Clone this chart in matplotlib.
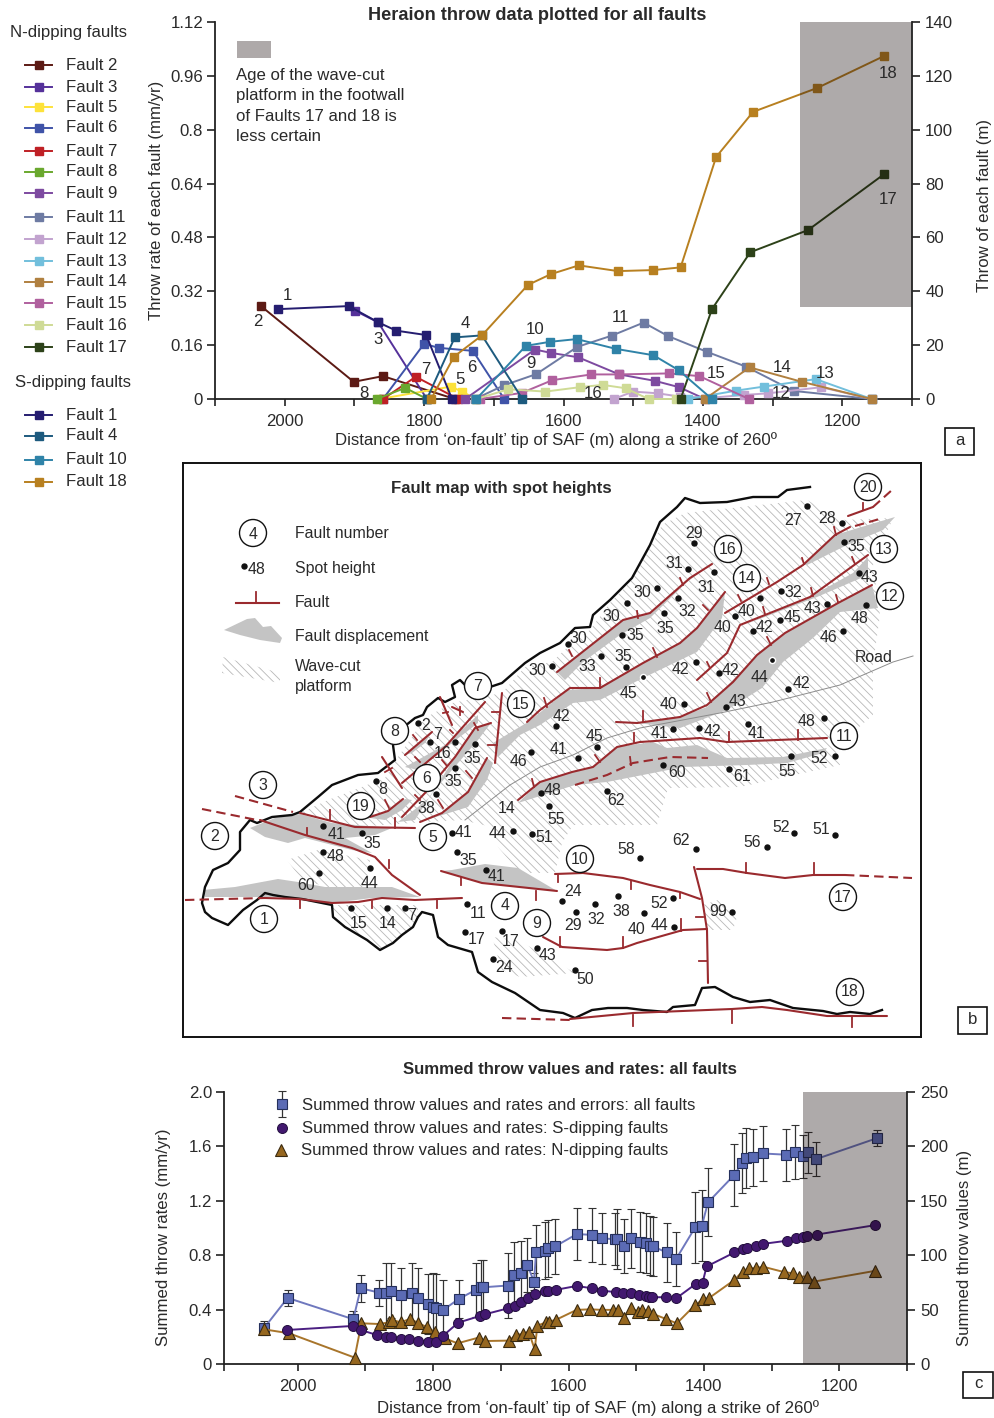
import matplotlib
matplotlib.use("Agg")
import matplotlib.pyplot as plt
from matplotlib.patches import Polygon, Rectangle, Circle

plt.rcParams['font.family'] = ['Liberation Sans', 'DejaVu Sans']
plt.rcParams['hatch.linewidth'] = 0.6

W, H = 995, 1418
TXT = "#2a2a2a"
AX = "#222222"
FS = 12.1
MAP_FS = 11.4

# ---- panel a: throw rate (mm/yr) for each fault, x is distance along strike (m)
fault_2_x = [2034, 1901, 1859, 1756]
fault_2_y = [0.276, 0.051, 0.068, 0]
fault_3_x = [1899, 1866, 1796]
fault_3_y = [0.262, 0.228, 0]
fault_5_x = [1864, 1761, 1746, 1725]
fault_5_y = [0, 0.037, 0.022, 0]
fault_6_x = [1859, 1800, 1779, 1730, 1685]
fault_6_y = [0, 0.164, 0.152, 0.143, 0]
fault_7_x = [1859, 1812, 1751]
fault_7_y = [0, 0.066, 0]
fault_8_x = [1868, 1827, 1796]
fault_8_y = [0, 0.033, 0]
fault_9_x = [1741, 1641, 1618, 1579, 1520, 1469, 1434, 1397]
fault_9_y = [0, 0.147, 0.137, 0.124, 0.073, 0.054, 0.035, 0]
fault_11_x = [1727, 1685, 1639, 1580, 1531, 1485, 1450, 1394, 1338, 1270, 1158]
fault_11_y = [0, 0.041, 0.074, 0.155, 0.188, 0.227, 0.187, 0.140, 0.096, 0.024, 0]
fault_12_x = [1528, 1500, 1465, 1433, 1387, 1341, 1306, 1230, 1158]
fault_12_y = [0, 0.022, 0.017, 0.007, 0.004, 0.012, 0.017, 0.035, 0]
fault_13_x = [1421, 1352, 1312, 1238, 1158]
fault_13_y = [0, 0.025, 0.037, 0.059, 0]
fault_14_x = [1397, 1333, 1258, 1158]
fault_14_y = [0, 0.094, 0.051, 0]
fault_15_x = [1720, 1660, 1616, 1560, 1520, 1449, 1405, 1334]
fault_15_y = [0, 0.018, 0.056, 0.073, 0.073, 0.076, 0.068, 0]
fault_16_x = [1725, 1679, 1626, 1577, 1544, 1511, 1478, 1438]
fault_16_y = [0, 0.029, 0.022, 0.035, 0.042, 0.032, 0, 0]
fault_17_x = [1432, 1387, 1332, 1249, 1140]
fault_17_y = [0, 0.267, 0.436, 0.502, 0.668]
fault_1_x = [2009, 1908, 1866, 1840, 1797, 1760]
fault_1_y = [0.267, 0.276, 0.228, 0.203, 0.190, 0]
fault_4_x = [1796, 1756, 1717, 1659]
fault_4_y = [0, 0.183, 0.189, 0]
fault_10_x = [1725, 1654, 1619, 1581, 1525, 1471, 1435, 1387]
fault_10_y = [0, 0.158, 0.170, 0.178, 0.149, 0.130, 0.086, 0]
fault_18_x = [1790, 1757, 1717, 1651, 1618, 1578, 1522, 1471, 1432, 1381, 1328, 1236, 1140]
fault_18_y = [0, 0.126, 0.189, 0.339, 0.371, 0.397, 0.380, 0.383, 0.391, 0.719, 0.853, 0.924, 1.019]

n_dipping = [("Fault 2", fault_2_x, fault_2_y, "#5c1a14"), ("Fault 3", fault_3_x, fault_3_y, "#55319a"),
             ("Fault 5", fault_5_x, fault_5_y, "#fde23a"), ("Fault 6", fault_6_x, fault_6_y, "#3f53a8"),
             ("Fault 7", fault_7_x, fault_7_y, "#bf2025"), ("Fault 8", fault_8_x, fault_8_y, "#6aa82e"),
             ("Fault 9", fault_9_x, fault_9_y, "#7d4aa0"), ("Fault 11", fault_11_x, fault_11_y, "#6e7ba3"),
             ("Fault 12", fault_12_x, fault_12_y, "#c2a3cf"), ("Fault 13", fault_13_x, fault_13_y, "#72bfdc"),
             ("Fault 14", fault_14_x, fault_14_y, "#b08040"), ("Fault 15", fault_15_x, fault_15_y, "#b0609e"),
             ("Fault 16", fault_16_x, fault_16_y, "#cfdb96"), ("Fault 17", fault_17_x, fault_17_y, "#2d4219")]
s_dipping = [("Fault 1", fault_1_x, fault_1_y, "#251d70"), ("Fault 4", fault_4_x, fault_4_y, "#1d5a7e"),
             ("Fault 10", fault_10_x, fault_10_y, "#2f83a8"), ("Fault 18", fault_18_x, fault_18_y, "#b88020")]

# ---- panel c: summed rates (mm/yr)
all_x = [2050, 2015, 1918, 1907, 1880, 1869, 1863, 1848, 1832, 1822, 1808, 1800, 1796, 1785, 1762, 1737, 1729,
         1726, 1690, 1680, 1670, 1661, 1651, 1648, 1635, 1630, 1620, 1588, 1566, 1550, 1531, 1528, 1518, 1507,
         1494, 1486, 1480, 1475, 1455, 1441, 1413, 1403, 1394, 1355, 1344, 1338, 1327, 1313, 1279, 1265, 1254,
         1246, 1234, 1144]
all_y = [0.263, 0.486, 0.329, 0.557, 0.525, 0.52, 0.54, 0.508, 0.52, 0.483, 0.442, 0.422, 0.41, 0.398, 0.479,
         0.545, 0.564, 0.564, 0.577, 0.655, 0.667, 0.729, 0.606, 0.82, 0.834, 0.85, 0.864, 0.955, 0.95, 0.923,
         0.918, 0.92, 0.869, 0.923, 0.90, 0.888, 0.871, 0.864, 0.82, 0.773, 1.004, 1.018, 1.188, 1.391, 1.477,
         1.514, 1.519, 1.548, 1.539, 1.558, 1.526, 1.558, 1.507, 1.661]
all_err = [0.05, 0.06, 0.06, 0.10, 0.095, 0.22, 0.2, 0.2, 0.22, 0.22, 0.22, 0.25, 0.25, 0.22, 0.14, 0.2, 0.2,
           0.2, 0.24, 0.24, 0.24, 0.2, 0.06, 0.2, 0.21, 0.21, 0.2, 0.19, 0.2, 0.19, 0.19, 0.22, 0.2, 0.22, 0.22,
           0.22, 0.22, 0.22, 0.22, 0.2, 0.26, 0.26, 0.25, 0.23, 0.22, 0.22, 0.21, 0.2, 0.19, 0.2, 0.16, 0.15,
           0.125, 0.06]
s_x = [2016, 1918, 1907, 1883, 1869, 1862, 1848, 1835, 1823, 1808, 1796, 1785, 1763, 1731, 1723, 1689, 1679,
       1670, 1660, 1650, 1635, 1630, 1619, 1588, 1566, 1551, 1530, 1520, 1507, 1496, 1486, 1481, 1476, 1456,
       1441, 1412, 1402, 1396, 1355, 1343, 1337, 1323, 1313, 1278, 1264, 1253, 1248, 1233, 1147]
s_y = [0.25, 0.28, 0.25, 0.213, 0.201, 0.201, 0.184, 0.182, 0.172, 0.164, 0.164, 0.209, 0.304, 0.353, 0.366,
       0.41, 0.429, 0.454, 0.483, 0.515, 0.54, 0.54, 0.545, 0.574, 0.557, 0.54, 0.528, 0.525, 0.525, 0.508, 0.5,
       0.496, 0.491, 0.491, 0.483, 0.589, 0.599, 0.717, 0.82, 0.844, 0.856, 0.871, 0.883, 0.906, 0.93, 0.937,
       0.942, 0.952, 1.021]
n_x = [2050, 2013, 1916, 1906, 1879, 1865, 1861, 1848, 1834, 1823, 1809, 1798, 1783, 1764, 1733, 1723, 1688,
       1678, 1668, 1659, 1650, 1646, 1633, 1629, 1619, 1588, 1568, 1551, 1535, 1527, 1518, 1507, 1497, 1492,
       1482, 1475, 1456, 1440, 1413, 1401, 1393, 1355, 1343, 1334, 1323, 1313, 1281, 1268, 1259, 1248, 1237,
       1147]
n_y = [0.255, 0.226, 0.047, 0.299, 0.294, 0.307, 0.324, 0.307, 0.331, 0.304, 0.27, 0.238, 0.189, 0.152, 0.194,
       0.169, 0.172, 0.213, 0.221, 0.238, 0.108, 0.282, 0.307, 0.312, 0.324, 0.398, 0.402, 0.398, 0.398, 0.398,
       0.341, 0.41, 0.385, 0.398, 0.39, 0.368, 0.331, 0.299, 0.434, 0.476, 0.483, 0.618, 0.68, 0.704, 0.704,
       0.716, 0.675, 0.667, 0.643, 0.643, 0.606, 0.685]

# ---- panel b: map features, coordinates are in map units (image pixels)
coast = [(810, 487), (787, 490), (778, 497), (753, 497), (727, 502), (700, 503), (685, 498), (677, 507), (660, 522),
         (650, 545), (632, 578), (610, 600), (593, 615), (590, 627), (575, 628), (560, 643), (540, 653), (525, 663),
         (502, 683), (490, 687), (468, 688), (460, 680), (452, 685), (455, 697), (445, 702), (438, 698), (427, 707),
         (423, 715), (415, 718), (400, 730), (393, 745), (395, 760), (378, 773), (358, 775), (332, 785), (318, 797),
         (300, 812), (292, 815), (272, 817), (257, 823), (250, 820), (240, 832), (240, 850), (228, 863), (213, 870),
         (205, 887), (202, 903), (205, 912), (212, 918), (228, 925), (243, 910), (257, 900), (265, 893), (273, 895),
         (285, 897), (302, 899), (332, 905), (333, 917), (345, 927), (367, 940), (380, 950), (393, 943), (402, 935),
         (413, 927), (418, 917), (422, 912), (433, 915), (438, 937), (448, 945), (472, 952), (478, 972), (492, 982),
         (515, 993), (540, 1010), (563, 1013), (575, 1018), (592, 1010), (608, 1008), (627, 1008), (643, 1010),
         (667, 1012), (673, 1007), (695, 1005), (702, 988), (715, 987), (733, 997), (750, 1002), (770, 1000),
         (793, 1008), (823, 1011), (837, 1014), (850, 1012), (870, 1014), (882, 1010)]
road = [(913, 656), (893, 662), (840, 685), (773, 702), (720, 713), (640, 728), (607, 738), (573, 755), (540, 767),
        (510, 785), (465, 820)]

solid_faults = [
    [(265, 898), (300, 899), (332, 903), (358, 902), (382, 898), (415, 900), (462, 898)],
    [(260, 820), (305, 835), (352, 848), (375, 857), (392, 875), (420, 895)],
    [(300, 813), (355, 827), (415, 828)],
    [(441, 871), (482, 883), (557, 891)],
    [(420, 822), (442, 813), (468, 792), (487, 758)],
    [(402, 817), (425, 793), (455, 757), (475, 728), (491, 723)],
    [(402, 783), (445, 747), (485, 702)],
    [(405, 755), (432, 732)],
    [(370, 817), (388, 811), (403, 799)],
    [(382, 757), (402, 788)],
    [(440, 697), (452, 725)],
    [(452, 707), (463, 712)],
    [(502, 693), (495, 763)],
    [(527, 722), (540, 710), (570, 688), (600, 688), (643, 663), (680, 643), (697, 628), (725, 592)],
    [(557, 672), (623, 620), (650, 613), (690, 578), (712, 564)],
    [(697, 680), (727, 653), (740, 625), (810, 597), (868, 555)],
    [(725, 613), (777, 582), (803, 565), (835, 535), (850, 527)],
    [(848, 516), (873, 507)],
    [(616, 722), (637, 723), (680, 717), (707, 705), (733, 682), (757, 655), (785, 633), (838, 603), (872, 585)],
    [(518, 800), (540, 782), (572, 772), (593, 767), (617, 747), (640, 742), (700, 738), (727, 742), (827, 738)],
    [(555, 874), (583, 873), (623, 878), (650, 885), (680, 892), (700, 899)],
    [(694, 867), (702, 898), (707, 930), (708, 983)],
    [(697, 869), (723, 869), (747, 873), (785, 878), (813, 875), (845, 875)],
    [(543, 937), (562, 947), (607, 950), (623, 948), (637, 943), (683, 930), (707, 929)],
    [(570, 1019), (633, 1013), (732, 1009), (762, 1007), (787, 1010), (827, 1016), (887, 1016)],
]
dashed_faults = [
    [(185, 900), (265, 898)],
    [(202, 809), (257, 820)],
    [(235, 796), (293, 812)],
    [(855, 526), (883, 518)],
    [(873, 507), (892, 490)],
    [(575, 785), (607, 775), (633, 763), (670, 757), (708, 758)],
    [(845, 875), (912, 878)],
    [(502, 1018), (570, 1020)],
]
fault_ticks = [
    (300, 899, 300, 908), (372, 901, 372, 908), (437, 899, 437, 908), (307, 828, 307, 835), (389, 860, 389, 868),
    (330, 810, 330, 819), (395, 818, 395, 828), (461, 877, 461, 885), (536, 891, 536, 900), (438, 800, 443, 808),
    (466, 771, 472, 778), (415, 795, 420, 800), (442, 760, 447, 766), (474, 723, 478, 730), (415, 757, 420, 762),
    (450, 730, 453, 733), (413, 735, 417, 740), (385, 800, 389, 808), (392, 768, 385, 772), (443, 713, 448, 712),
    (460, 707, 460, 715), (492, 712, 500, 712), (488, 745, 497, 745), (544, 698, 547, 707), (600, 678, 600, 688),
    (653, 648, 657, 657), (703, 605, 708, 610), (569, 650, 572, 656), (637, 611, 638, 618), (680, 578, 683, 585),
    (707, 662, 710, 668), (763, 607, 765, 614), (811, 588, 813, 596), (852, 557, 855, 564), (738, 595, 741, 601),
    (767, 578, 769, 584), (802, 558, 804, 564), (834, 527, 836, 535), (863, 503, 863, 510), (643, 711, 643, 722),
    (707, 693, 711, 702), (767, 637, 771, 645), (836, 595, 838, 602), (634, 733, 634, 742), (729, 732, 729, 742),
    (798, 730, 798, 740), (595, 755, 600, 762), (532, 779, 534, 787), (630, 757, 631, 765), (558, 875, 558, 882),
    (631, 881, 631, 889), (680, 893, 680, 898), (696, 917, 703, 917), (699, 961, 707, 961), (746, 863, 746, 873),
    (814, 863, 814, 875), (560, 937, 560, 947), (623, 937, 623, 948), (681, 919, 681, 931), (633, 1015, 633, 1026),
    (732, 1009, 732, 1023), (852, 1017, 852, 1027),
]
displacement = [
    [(203, 890), (235, 887), (278, 879), (298, 882), (325, 887), (392, 887), (420, 897), (372, 898), (332, 903),
     (285, 897), (205, 897)],
    [(250, 828), (275, 818), (300, 814), (332, 823), (392, 828), (375, 835), (345, 838), (372, 853), (352, 850),
     (305, 838), (288, 843), (265, 837)],
    [(441, 871), (452, 870), (485, 864), (518, 868), (557, 891), (482, 883)],
    [(420, 822), (442, 813), (468, 792), (487, 758), (493, 763), (487, 780), (468, 807)],
    [(398, 822), (418, 807), (430, 797), (455, 757), (475, 728), (491, 723), (478, 740), (452, 770), (432, 793),
     (415, 820)],
    [(405, 767), (445, 745), (478, 715), (478, 723), (452, 743), (418, 770)],
    [(405, 755), (432, 732), (425, 743), (412, 753)],
    [(370, 818), (388, 811), (405, 799), (412, 800), (402, 810), (385, 820)],
    [(493, 743), (528, 722), (568, 690), (600, 688), (643, 663), (680, 643), (697, 628), (725, 592), (722, 618),
     (697, 652), (643, 678), (600, 700), (573, 703), (540, 725), (520, 735), (498, 757)],
    [(557, 672), (623, 620), (650, 613), (690, 578), (712, 564), (687, 582), (650, 618), (620, 635), (583, 662),
     (565, 680)],
    [(803, 565), (835, 535), (895, 517), (883, 530), (847, 545), (807, 565)],
    [(810, 597), (853, 573), (868, 557), (868, 575), (817, 597), (757, 620), (743, 625)],
    [(707, 707), (757, 655), (785, 633), (838, 603), (872, 585), (878, 608), (840, 612), (813, 638), (783, 662),
     (762, 688), (727, 710), (680, 728), (637, 723), (680, 717)],
    [(518, 803), (540, 782), (572, 772), (593, 767), (617, 747), (653, 742), (667, 748), (697, 745), (727, 758),
     (783, 757), (827, 748), (823, 753), (787, 763), (747, 765), (683, 767), (653, 773), (607, 782), (575, 785)],
]
platforms = [
    [(685, 513), (807, 500), (842, 520), (893, 518), (873, 565), (880, 615), (873, 665), (873, 715), (835, 748),
     (840, 765), (740, 787), (668, 788), (657, 825), (573, 825), (562, 843), (555, 873), (520, 873), (498, 847),
     (492, 827), (462, 820), (425, 822), (355, 827), (300, 813), (328, 800), (385, 778), (398, 757), (425, 718),
     (452, 703), (502, 693), (525, 667), (552, 662), (575, 640), (590, 630), (610, 603), (632, 580), (650, 548),
     (662, 525)],
    [(287, 860), (318, 850), (370, 860), (367, 887), (328, 887), (302, 880)],
    [(333, 905), (418, 905), (418, 917), (413, 927), (393, 943), (380, 950), (367, 940), (345, 927), (333, 917)],
    [(492, 937), (518, 940), (575, 973), (520, 977), (502, 970)],
    [(718, 900), (737, 917), (733, 930), (708, 930), (703, 905)],
]

# dot x, dot y, height, label x, label y
spot_heights = [
    (418, 723, "2", 426, 725), (430, 742, "7", 438, 734), (455, 742, "16", 443, 753), (475, 744, "35", 472, 758),
    (455, 768, "35", 453, 781), (436, 794, "38", 426, 808), (376, 781, "8", 383, 789), (323, 826, "41", 337, 834),
    (362, 833, "35", 372, 843), (323, 852, "48", 336, 856), (319, 873, "60", 306, 885), (370, 868, "44", 370, 883),
    (351, 908, "15", 359, 923), (387, 908, "14", 388, 923), (405, 908, "7", 412, 916), (452, 833, "41", 464, 832),
    (457, 852, "35", 468, 860), (486, 870, "41", 497, 876), (513, 831, "44", 498, 833), (532, 834, "51", 544, 837),
    (467, 904, "11", 478, 913), (465, 932, "17", 477, 939), (502, 931, "17", 511, 941), (493, 959, "24", 504, 967),
    (537, 948, "43", 548, 955), (575, 970, "50", 585, 980), (562, 901, "24", 573, 891), (576, 912, "29", 573, 926),
    (531, 752, "46", 518, 761), (578, 758, "41", 559, 749), (556, 726, "42", 561, 716), (541, 793, "48", 553, 790),
    (549, 806, "55", 556, 819), (552, 666, "30", 537, 670), (568, 644, "30", 578, 638), (601, 656, "33", 587, 666),
    (626, 667, "35", 623, 656), (622, 635, "35", 635, 635), (627, 603, "30", 611, 616), (657, 588, "30", 642, 592),
    (664, 613, "35", 665, 628), (678, 598, "32", 687, 611), (688, 569, "31", 674, 563), (694, 543, "29", 694, 533),
    (714, 572, "31", 706, 587), (597, 747, "45", 594, 736), (696, 662, "42", 680, 669), (719, 673, "42", 730, 670),
    (684, 704, "40", 669, 704), (726, 707, "43", 738, 701), (753, 631, "42", 764, 627), (735, 616, "40", 747, 611),
    (760, 598, "40", 723, 627), (781, 591, "32", 793, 592), (780, 620, "45", 792, 617), (827, 604, "43", 813, 608),
    (859, 573, "43", 870, 577), (866, 605, "48", 860, 618), (843, 631, "46", 828, 637), (788, 689, "42", 801, 683),
    (824, 718, "48", 807, 721), (748, 724, "41", 757, 733), (699, 728, "42", 712, 731), (673, 729, "41", 660, 733),
    (835, 756, "52", 819, 758), (791, 756, "55", 787, 771), (729, 769, "61", 742, 776), (663, 765, "60", 677, 772),
    (607, 791, "62", 616, 800), (807, 506, "27", 793, 520), (842, 523, "28", 827, 518), (844, 542, "35", 856, 546),
    (640, 858, "58", 626, 849), (696, 849, "62", 681, 840), (767, 847, "56", 752, 842), (794, 833, "52", 781, 827),
    (835, 835, "51", 821, 829), (595, 904, "32", 596, 919), (618, 896, "38", 621, 911), (644, 913, "40", 637, 930),
    (673, 898, "52", 659, 903), (674, 927, "44", 660, 926), (732, 912, "99", 718, 911),
]
ringed_spots = [(643, 677, "45", 628, 693), (772, 660, "44", 760, 677)]
fault_circles = [("1", 264, 919), ("2", 215, 836), ("3", 263, 785), ("4", 505, 906), ("5", 433, 837), ("6", 427, 778),
                 ("7", 478, 686), ("8", 395, 731), ("9", 537, 923), ("10", 580, 859), ("11", 844, 736), ("12", 890, 596),
                 ("13", 884, 549), ("14", 747, 578), ("15", 521, 704), ("16", 728, 549), ("17", 843, 897),
                 ("18", 850, 992), ("19", 361, 806), ("20", 868, 487)]
fault_numbers_a = [("1", 287, 295), ("2", 258, 322), ("3", 378, 340), ("4", 465, 323), ("5", 460, 380), ("6", 472, 368),
                   ("7", 426, 369), ("8", 364, 394), ("9", 531, 364), ("10", 535, 329), ("11", 621, 318),
                   ("12", 781, 394), ("13", 825, 373), ("14", 782, 368), ("15", 716, 373), ("16", 593, 394),
                   ("17", 888, 199), ("18", 888, 73)]

legend_n_rows = [65, 87, 107, 128, 151, 172, 193, 217, 239, 261, 282, 303, 325, 347]
legend_s_rows = [415, 436, 460, 482]

fig = plt.figure(figsize=(W / 100, H / 100), dpi=100)


def add_ax(left, top, right, bottom):
    return fig.add_axes([left / W, 1 - bottom / H, (right - left) / W, (bottom - top) / H])


def ftext(x, y, s, **kw):
    kw.setdefault("ha", "center")
    kw.setdefault("va", "center")
    kw.setdefault("fontsize", FS)
    kw.setdefault("color", TXT)
    return fig.text(x / W, 1 - y / H, s, **kw)


def style_axes(ax, ax2):
    ax.spines["top"].set_visible(False)
    ax.spines["right"].set_visible(False)
    ax2.spines["top"].set_visible(False)
    ax2.spines["left"].set_visible(False)
    ax2.spines["bottom"].set_visible(False)
    for sp in [ax.spines["left"], ax.spines["bottom"], ax2.spines["right"]]:
        sp.set_linewidth(1.3)
        sp.set_color(AX)
    ax.tick_params(axis="x", length=5, width=1.2, color=AX, labelsize=FS, labelcolor=TXT, pad=6)
    ax.tick_params(axis="y", length=6, width=1.2, color=AX, labelsize=FS, labelcolor=TXT, pad=2.5)
    ax2.tick_params(axis="y", length=6, width=1.2, color=AX, labelsize=FS, labelcolor=TXT, pad=3.5)
    ax2.patch.set_visible(False)


# Panel a
ax_a = add_ax(215, 22, 912, 399)
ax_a.set_xlim(2100, 1100)
ax_a.set_ylim(0, 1.12)
for name, xs, ys, col in n_dipping + s_dipping:
    ax_a.plot(xs, ys, color=col, lw=1.4, marker="s", ms=6, clip_on=False, zorder=3)
ax_a.add_patch(Rectangle((1100, 0.274), 161, 0.846, facecolor=(24 / 255, 12 / 255, 12 / 255), alpha=0.35,
                         lw=0, zorder=5))
ax_a.set_xticks(range(1100, 2101, 100))
ax_a.set_xticklabels(["" if v % 200 or v == 2100 else str(v) for v in range(1100, 2101, 100)])
ax_a.set_yticks([0, 0.16, 0.32, 0.48, 0.64, 0.8, 0.96, 1.12])
ax_a.set_yticklabels(["0", "0.16", "0.32", "0.48", "0.64", "0.8", "0.96", "1.12"])
ax_a2 = ax_a.twinx()
ax_a2.set_ylim(0, 140)
ax_a2.set_yticks(range(0, 141, 20))
style_axes(ax_a, ax_a2)

ftext(537, 15, "Heraion throw data plotted for all faults", fontweight="bold", fontsize=13.1)
ftext(556, 440, "Distance from ‘on-fault’ tip of SAF (m) along a strike of 260º")
ftext(156, 200, "Throw rate of each fault (mm/yr)", rotation=90)
ftext(985, 205, "Throw of each fault (m)", rotation=90)
for i, line in enumerate(["Age of the wave-cut", "platform in the footwall", "of Faults 17 and 18 is", "less certain"]):
    ftext(236, 75.5 + i * 20.3, line, ha="left")
for s, x, y in fault_numbers_a:
    ftext(x, y, s)

# Full figure overlay for the side legend, the key box and the panel letters
overlay = fig.add_axes([0, 0, 1, 1], zorder=10)
overlay.set_xlim(0, W)
overlay.set_ylim(H, 0)
overlay.axis("off")
overlay.add_patch(Rectangle((237, 41), 34, 17, facecolor="#aea9a9", lw=0))
ftext(68, 32, "N-dipping faults", zorder=11)
ftext(73, 383, "S-dipping faults", zorder=11)
for (name, xs, ys, col), y in zip(n_dipping + s_dipping, legend_n_rows + legend_s_rows):
    overlay.plot([25, 52], [y, y], color=col, lw=1.4)
    overlay.plot([38.5], [y], color=col, marker="s", ms=6)
    ftext(66, y, name, ha="left")
for s, x0, y0, x1, y1 in [("a", 945, 428, 974, 455), ("b", 958, 1007, 987, 1034), ("c", 963, 1372, 993, 1398)]:
    overlay.add_patch(Rectangle((x0, y0), x1 - x0, y1 - y0, fill=False, edgecolor="#111111", lw=1.2))
    ftext((x0 + x1) / 2, (y0 + y1) / 2 - 1, s)

# Panel b, the map
ax_b = add_ax(183, 463, 921, 1037)
ax_b.set_xlim(183, 921)
ax_b.set_ylim(1037, 463)
ax_b.set_xticks([])
ax_b.set_yticks([])
for sp in ax_b.spines.values():
    sp.set_linewidth(1.4)
    sp.set_color("#111111")
RED = "#9a2a2e"
GREY = "#c4c4c4"
HATCH = "#b8b8b8"
for poly in platforms:
    ax_b.add_patch(Polygon(poly, closed=True, facecolor="none", edgecolor=HATCH, hatch="\\\\\\\\", lw=0, zorder=1))
for poly in displacement:
    ax_b.add_patch(Polygon(poly, closed=True, facecolor=GREY, edgecolor="none", zorder=2))
ax_b.plot(*zip(*road), color="#8c8c8c", lw=0.7, zorder=3)
ax_b.plot(*zip(*coast), color="#0d0d0d", lw=1.7, zorder=4, solid_joinstyle="round")
for f in solid_faults:
    ax_b.plot(*zip(*f), color=RED, lw=1.5, zorder=5, solid_capstyle="round")
for f in dashed_faults:
    ax_b.plot(*zip(*f), color=RED, lw=1.5, zorder=5, dashes=(4.5, 2.5))
for x0, y0, x1, y1 in fault_ticks:
    ax_b.plot([x0, x1], [y0, y1], color=RED, lw=1.3, zorder=5)
for x, y, s, lx, ly in spot_heights:
    ax_b.plot([x], [y], "o", color="#111111", ms=3.6, zorder=6)
    ax_b.text(lx, ly, s, ha="center", va="center", fontsize=MAP_FS, color=TXT, zorder=7)
for x, y, s, lx, ly in ringed_spots:
    ax_b.plot([x], [y], "o", color="#111111", ms=4.4, mec="white", mew=1.0, zorder=6)
    ax_b.text(lx, ly, s, ha="center", va="center", fontsize=MAP_FS, color=TXT, zorder=7)
ax_b.text(507, 808, "14", ha="center", va="center", fontsize=MAP_FS, color=TXT, zorder=7)
ax_b.text(874, 657, "Road", ha="center", va="center", fontsize=MAP_FS, color=TXT, zorder=7)
for s, x, y in fault_circles:
    ax_b.add_patch(Circle((x, y), 13.5, facecolor="white", edgecolor="#111111", lw=1.0, zorder=8))
    ax_b.text(x, y, s, ha="center", va="center", fontsize=MAP_FS, color=TXT, zorder=9)

# map key
ax_b.text(501, 488, "Fault map with spot heights", ha="center", va="center", fontsize=FS, fontweight="bold", color=TXT)
ax_b.add_patch(Circle((253, 533), 13.5, facecolor="white", edgecolor="#111111", lw=1.0))
ax_b.text(253, 534, "4", ha="center", va="center", fontsize=MAP_FS, color=TXT)
ax_b.plot([244.5], [566], "o", color="#111111", ms=3.6)
ax_b.text(257, 569, "48", ha="center", va="center", fontsize=MAP_FS, color=TXT)
ax_b.plot([236, 279], [602.5, 602.5], color=RED, lw=1.5)
ax_b.plot([256.5, 256.5], [592, 602.5], color=RED, lw=1.3)
ax_b.add_patch(Polygon([(224, 630), (247, 619), (255, 618), (263, 627), (271, 626), (282, 638), (280, 643), (260, 640),
                        (240, 635)], closed=True, facecolor=GREY, edgecolor="none"))
ax_b.add_patch(Polygon([(223, 657), (280, 673), (280, 683), (222, 673)], closed=True, facecolor="none",
                       edgecolor=HATCH, hatch="\\\\\\\\", lw=0))
for s, y in [("Fault number", 533), ("Spot height", 568), ("Fault", 602), ("Fault displacement", 636),
             ("Wave-cut", 666), ("platform", 686)]:
    ax_b.text(295, y, s, ha="left", va="center", fontsize=MAP_FS, color=TXT)

# Panel c
ax_c = add_ax(224, 1092, 907, 1364)
ax_c.set_xlim(2109, 1100)
ax_c.set_ylim(0, 2.0)
ax_c.errorbar(all_x, all_y, yerr=all_err, color="#6f78be", ecolor="#333333", elinewidth=0.9, capsize=2.6,
              capthick=0.9, lw=1.4, marker="s", ms=7, mfc="#5b6bb5", mec="#25305c", mew=0.8, zorder=3)
ax_c.plot(n_x, n_y, color="#a8752b", lw=1.4, marker="^", ms=8, mfc="#96671f", mec="#3a2a10", mew=0.8, zorder=3.2,
          clip_on=False)
ax_c.plot(s_x, s_y, color="#4b1f82", lw=1.4, marker="o", ms=7.2, mfc="#42186f", mec="#24103f", mew=0.7, zorder=3.4)
ax_c.add_patch(Rectangle((1100, 0), 154, 2.0, facecolor=(24 / 255, 12 / 255, 12 / 255), alpha=0.35, lw=0, zorder=5))
ax_c.set_xticks([2109] + list(range(2000, 1099, -100)))
ax_c.set_xticklabels([""] + ["" if v % 200 else str(v) for v in range(2000, 1099, -100)])
ax_c.set_yticks([0, 0.4, 0.8, 1.2, 1.6, 2.0])
ax_c.set_yticklabels(["0", "0.4", "0.8", "1.2", "1.6", "2.0"])
ax_c2 = ax_c.twinx()
ax_c2.set_ylim(0, 250)
ax_c2.set_yticks(range(0, 251, 50))
style_axes(ax_c, ax_c2)

ftext(570, 1070, "Summed throw values and rates: all faults", fontweight="bold")
ftext(598, 1408, "Distance from ‘on-fault’ tip of SAF (m) along a strike of 260º")
ftext(164, 1237, "Summed throw rates (mm/yr)", rotation=90)
ftext(965, 1248, "Summed throw values (m)", rotation=90)
overlay.errorbar([282], [1104], yerr=[13], color="#333333", elinewidth=0.9, capsize=2.6, capthick=0.9, marker="s",
                 ms=7, mfc="#5b6bb5", mec="#25305c", mew=0.8)
overlay.plot([282], [1128], marker="o", ms=7.2, mfc="#42186f", mec="#24103f", mew=0.7)
overlay.plot([281], [1150], marker="^", ms=8, mfc="#96671f", mec="#3a2a10", mew=0.8)
ftext(302, 1105, "Summed throw values and rates and errors: all faults", ha="left")
ftext(302, 1128, "Summed throw values and rates: S-dipping faults", ha="left")
ftext(301, 1150, "Summed throw values and rates: N-dipping faults", ha="left")

fig.savefig("out.png", dpi=100)
